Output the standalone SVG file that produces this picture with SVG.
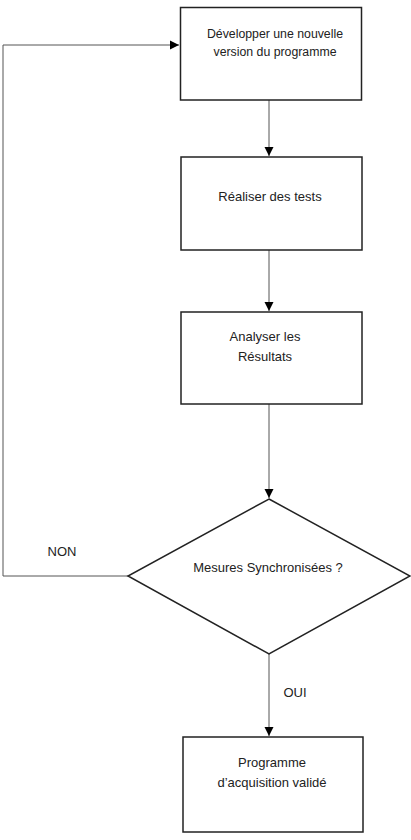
<svg xmlns="http://www.w3.org/2000/svg" width="411" height="840" viewBox="0 0 411 840">
<style>
.box{fill:#fff;stroke:#222;stroke-width:1.5}
.c{fill:none;stroke:#555;stroke-width:1}
text{font-family:"Liberation Sans",Arial,sans-serif;font-size:13px;fill:#222;text-anchor:middle}
.s{font-size:12.3px}
</style>
<defs>
<marker id="ah" markerWidth="10" markerHeight="10" refX="9" refY="5" orient="auto" markerUnits="userSpaceOnUse">
<path d="M0,0.5 L9,5 L0,9.5 z" fill="#000"/>
</marker>
</defs>
<rect width="411" height="840" fill="#fff"/>
<g id="connectors">
<path class="c" d="M269,100 V156" marker-end="url(#ah)"/>
<path class="c" d="M269,250 V311" marker-end="url(#ah)"/>
<path class="c" d="M269,404 V498" marker-end="url(#ah)"/>
<path class="c" d="M128,576 H3 V45 H179" marker-end="url(#ah)"/>
<path class="c" d="M269,654 V736" marker-end="url(#ah)"/>
<text x="62" y="556">NON</text>
<text x="295" y="697">OUI</text>
</g>
<g id="n1">
<rect class="box" x="180.5" y="7.5" width="181" height="92.5"/>
<text class="s" x="275" y="38">Développer une nouvelle</text>
<text class="s" x="275" y="56">version du programme</text>
</g>
<g id="n2">
<rect class="box" x="181" y="157" width="181" height="93"/>
<text x="270" y="201">Réaliser des tests</text>
</g>
<g id="n3">
<rect class="box" x="181" y="312" width="181" height="92"/>
<text x="265" y="341">Analyser les</text>
<text x="265" y="361">Résultats</text>
</g>
<g id="n4">
<polygon class="box" points="269,499 410,576 269,654 128,576"/>
<text x="268" y="572">Mesures Synchronisées ?</text>
</g>
<g id="n5">
<rect class="box" x="183" y="737" width="180" height="95"/>
<text x="272" y="767">Programme</text>
<text x="272" y="787">d’acquisition validé</text>
</g>
</svg>
